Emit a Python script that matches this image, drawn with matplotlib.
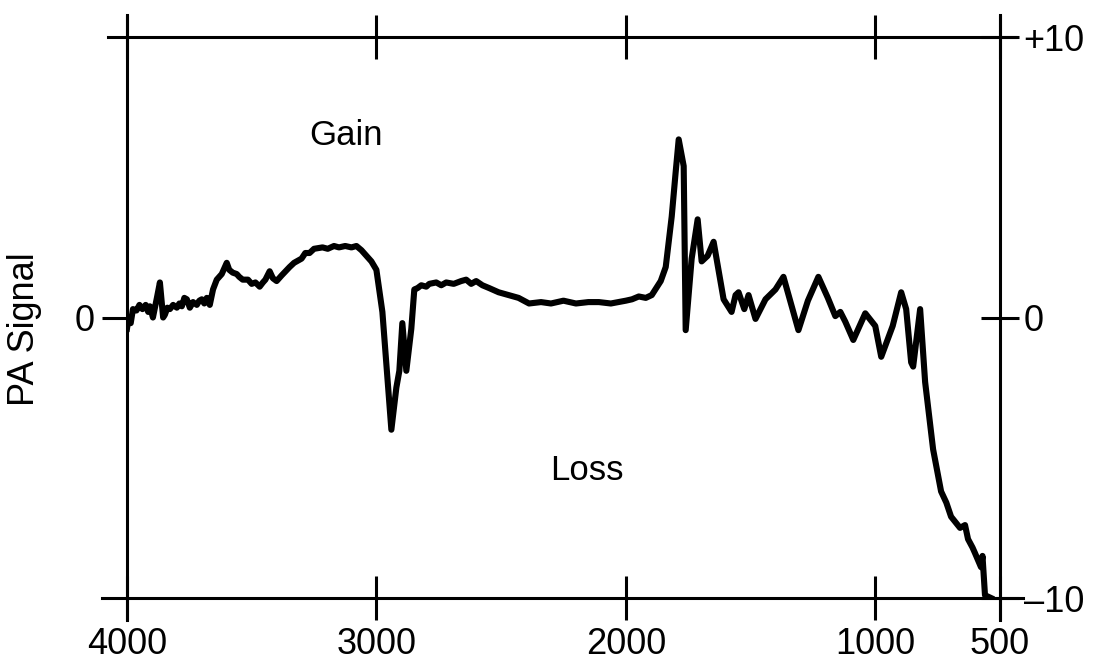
import matplotlib
matplotlib.use("Agg")
import matplotlib.pyplot as plt

plt.rcParams['font.family'] = ['Liberation Sans', 'DejaVu Sans']

# wavenumber (cm-1) and photoacoustic signal
wavenumber = [4000, 3995, 3985, 3976, 3962, 3950, 3938, 3925, 3915, 3908, 3896,
              3880, 3868, 3860, 3855, 3848, 3838, 3828, 3815, 3800, 3790, 3780,
              3770, 3760, 3748, 3735, 3720, 3710, 3700, 3690, 3680, 3668, 3655,
              3640, 3620, 3600, 3590, 3576, 3560, 3550, 3536, 3515, 3500, 3485,
              3468, 3455, 3445, 3428, 3415, 3400, 3380, 3348, 3330, 3300, 3285,
              3268, 3250, 3216, 3195, 3170, 3150, 3125, 3100, 3080, 3060, 3040,
              3020, 3000, 2976, 2940, 2920, 2908, 2896, 2880, 2860, 2848, 2835,
              2820, 2800, 2788, 2760, 2740, 2720, 2690, 2660, 2640, 2620, 2600,
              2575, 2548, 2510, 2470, 2430, 2388, 2340, 2300, 2250, 2200, 2150,
              2108, 2060, 2000, 1975, 1948, 1920, 1896, 1860, 1840, 1816, 1800,
              1788, 1768, 1760, 1736, 1712, 1696, 1672, 1648, 1608, 1576, 1560,
              1548, 1525, 1508, 1480, 1440, 1400, 1368, 1308, 1270, 1228, 1190,
              1160, 1140, 1120, 1088, 1040, 1000, 976, 930, 896, 876, 856,
              848, 820, 800, 768, 736, 715, 696, 660, 640, 628, 610, 600,
              576, 570, 560, 536]
signal = [-0.4, -0.1, -0.2, 0.3, 0.25, 0.45, 0.3, 0.45, 0.2, 0.4, 0.0,
          0.7, 1.25, 0.5, 0.0, 0.1, 0.35, 0.3, 0.45, 0.35, 0.5, 0.4,
          0.7, 0.65, 0.35, 0.55, 0.45, 0.6, 0.65, 0.5, 0.7, 0.45, 1.0,
          1.35, 1.55, 1.95, 1.7, 1.6, 1.55, 1.45, 1.35, 1.35, 1.2, 1.25,
          1.1, 1.25, 1.35, 1.65, 1.4, 1.3, 1.5, 1.8, 1.95, 2.1, 2.3,
          2.3, 2.45, 2.5, 2.45, 2.55, 2.5, 2.55, 2.5, 2.55, 2.4, 2.2,
          2.0, 1.7, 0.2, -4.0, -2.5, -1.9, -0.2, -1.9, -0.4, 1.0, 1.05,
          1.15, 1.1, 1.2, 1.25, 1.15, 1.25, 1.2, 1.3, 1.35, 1.2, 1.3,
          1.15, 1.05, 0.9, 0.8, 0.7, 0.5, 0.55, 0.5, 0.6, 0.5, 0.55,
          0.55, 0.5, 0.6, 0.65, 0.75, 0.7, 0.8, 1.3, 1.8, 3.6, 5.2,
          6.35, 5.4, -0.45, 2.1, 3.5, 2.0, 2.2, 2.7, 0.65, 0.2, 0.8,
          0.9, 0.3, 0.8, -0.05, 0.65, 1.0, 1.45, -0.45, 0.6, 1.45, 0.7,
          0.05, 0.2, -0.15, -0.8, 0.15, -0.3, -1.4, -0.3, 0.9, 0.3, -1.6,
          -1.75, 0.3, -2.3, -4.7, -6.2, -6.6, -7.1, -7.5, -7.4, -7.9, -8.2, -8.4,
          -8.9, -8.5, -9.9, -10.0]

x_ticks = [4000, 3000, 2000, 1000, 500]
right_ticks = [10, 0, -10]
right_labels = ['+10', '0', '\u201310']

fig = plt.figure(figsize=(11.07, 6.66), dpi=100)
ax = fig.add_axes([0.1147, 0.1021, 0.7886, 0.8423])

ax.plot(wavenumber, signal, color='black', lw=4.4, solid_joinstyle='round')

ax.set_xlim(4000, 500)
ax.set_ylim(-10, 10)

# frame lines run a little past the corners
for side in ['left', 'right', 'top', 'bottom']:
  ax.spines[side].set_linewidth(2.2)
ax.spines['top'].set_bounds(4076, 440)
ax.spines['bottom'].set_bounds(4100, 408)
ax.spines['left'].set_bounds(-10.8, 10.8)
ax.spines['right'].set_bounds(-10.8, 10.8)

ax.set_xticks(x_ticks)
ax.set_xticklabels([str(t) for t in x_ticks])
ax.tick_params(axis='x', direction='inout', length=32, width=2.2,
               top=True, labelsize=26, pad=5)
ax.set_yticks([0])
ax.set_yticklabels(['0'])
ax.tick_params(axis='y', direction='out', length=18, width=2.2, labelsize=26, pad=5)

ax2 = ax.twinx()
ax2.set_ylim(-10, 10)
ax2.set_yticks(right_ticks)
ax2.set_yticklabels(right_labels)
ax2.tick_params(axis='y', direction='inout', length=28, width=2.2, labelsize=26, pad=3)
for s in ax2.spines.values():
  s.set_visible(False)

ax.set_ylabel('PA Signal', fontsize=26)
ax.yaxis.set_label_coords(-0.097, 0.48)

ax.text(3120, 6.5, 'Gain', fontsize=25, ha='center', va='center')
ax.text(2156, -5.45, 'Loss', fontsize=25, ha='center', va='center')

fig.savefig('out.png', dpi=100)
